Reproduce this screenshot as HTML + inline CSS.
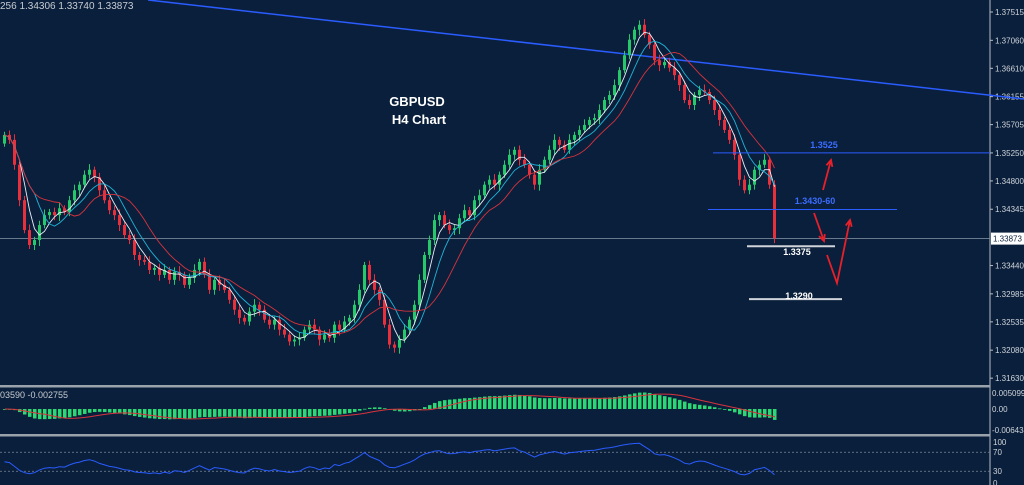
<!DOCTYPE html>
<html><head><meta charset="utf-8"><style>
html,body{margin:0;padding:0;background:#0a1f3b;overflow:hidden}
svg{display:block;font-family:"Liberation Sans",sans-serif}
</style></head><body>
<svg id="c" width="1024" height="485" viewBox="0 0 1024 485">
<rect x="0" y="0" width="1024" height="485" fill="#0a1f3b"/>
<text x="0" y="9" font-size="10" fill="#c8ccd2">256 1.34306 1.33740 1.33873</text>
<g id="grid"></g>
<g id="main"></g>
<g id="ann"></g>
</svg>
<script>
const closes=[1.3554,1.3546,1.3506,1.3449,1.3401,1.3377,1.3385,1.3409,1.3425,1.3430,
1.3425,1.3436,1.3430,1.3449,1.3465,1.3474,1.3490,1.3498,1.3486,1.3465,
1.3449,1.3433,1.3425,1.3409,1.3393,1.3385,1.3361,1.3353,1.3350,1.3337,
1.3340,1.3329,1.3337,1.3321,1.3334,1.3329,1.3313,1.3324,1.3337,1.3350,
1.3329,1.3305,1.3321,1.3313,1.3305,1.3289,1.3273,1.3260,1.3254,1.3270,
1.3281,1.3273,1.3257,1.3249,1.3257,1.3241,1.3233,1.3222,1.3225,1.3228,
1.3241,1.3249,1.3241,1.3225,1.3233,1.3228,1.3249,1.3241,1.3254,1.3260,
1.3281,1.3305,1.3345,1.3321,1.3305,1.3289,1.3249,1.3217,1.3212,1.3225,
1.3241,1.3257,1.3281,1.3321,1.3361,1.3385,1.3417,1.3425,1.3409,1.3401,
1.3404,1.3420,1.3433,1.3425,1.3449,1.3457,1.3474,1.3482,1.3474,1.3490,
1.3506,1.3522,1.3530,1.3514,1.3506,1.3490,1.3474,1.3498,1.3514,1.3530,
1.3546,1.3538,1.3530,1.3546,1.3554,1.3562,1.3570,1.3578,1.3581,1.3594,
1.3610,1.3618,1.3634,1.3658,1.3682,1.3707,1.3723,1.3731,1.3715,1.3699,
1.3674,1.3666,1.3671,1.3662,1.3650,1.3634,1.3610,1.3602,1.3618,1.3626,
1.3623,1.3610,1.3594,1.3578,1.3562,1.3546,1.3522,1.3482,1.3465,1.3474,
1.3498,1.3506,1.3514,1.3474,1.3388];
const firstOpen=1.3540;
const priceTicks=["1.37515","1.37060","1.36610","1.36155","1.35705","1.35250","1.34800","1.34345","1.33440","1.32985","1.32535","1.32080","1.31630"];
const lastPrice=1.33873;
const macdTicks=["0.005099","0.00","-0.006434"];
const rsiTicks=["100","70","30","0"];

const NS="http://www.w3.org/2000/svg";
function mk(tag,attrs,parent){const e=document.createElementNS(NS,tag);for(const k in attrs)e.setAttribute(k,attrs[k]);parent.appendChild(e);return e;}
const yP=p=>12+(1.37515-p)*6222;
const xI=i=>3+i*5;
const yM=v=>409-v*2600;
const yR=v=>485.5-v*0.475;
const main=document.getElementById('main'),grid=document.getElementById('grid'),ann=document.getElementById('ann');

let e=mk('line',{x1:990,y1:0,x2:990,y2:485,stroke:'#b8bec6','stroke-width':1},grid);

priceTicks.forEach(t=>{const y=yP(parseFloat(t));
 mk('line',{x1:990,y1:y,x2:993,y2:y,stroke:'#b8bec6'},grid);
 const tx=mk('text',{x:995,y:y+3,'font-size':8,fill:'#d0d4da'},grid);tx.textContent=t;
 });
[386,435].forEach(y=>{const s=mk('rect',{x:0,y:y-1,width:990,height:2.5,fill:'#9aa2ac'},grid);
 });
e=mk('line',{x1:0,y1:yP(lastPrice),x2:990,y2:yP(lastPrice),stroke:'#8a98aa','stroke-width':0.8},grid);

e=mk('rect',{x:991,y:yP(lastPrice)-6,width:33,height:12,fill:'#ffffff'},grid);

e=mk('text',{x:993,y:yP(lastPrice)+3,'font-size':8,fill:'#0a1f3b'},grid);e.textContent=lastPrice.toFixed(5);

[393,409,430].forEach((y,k)=>{
 const t=mk('text',{x:992,y:y+3,'font-size':8,fill:'#d0d4da'},grid);t.textContent=macdTicks[k];
 });
[442,452,471,483].forEach((y,k)=>{
 const t=mk('text',{x:993,y:y+3,'font-size':8,fill:'#d0d4da'},grid);t.textContent=rsiTicks[k];
 });
[70,30].forEach(v=>{const l=mk('line',{x1:0,y1:yR(v),x2:990,y2:yR(v),stroke:'#7a8698','stroke-dasharray':'2,2','stroke-width':0.8},grid);
 });
e=mk('text',{x:0,y:398,'font-size':9,fill:'#c8ccd2'},grid);e.textContent='03590 -0.002755';


e=mk('line',{x1:148,y1:0,x2:1024,y2:99,stroke:'#2a5cff','stroke-width':1.5},grid);


closes.forEach((c,i)=>{const o=i?closes[i-1]:firstOpen;const up=c>=o;const col=up?'#25c96a':'#e8303c';
 const hi=Math.max(o,c)+0.0005+(i%3)*0.0002,lo=Math.min(o,c)-0.0005-(i%4)*0.00015;
 const g=mk('g',{},main);
 mk('line',{x1:xI(i)+1.5,y1:yP(hi),x2:xI(i)+1.5,y2:yP(lo),stroke:col,'stroke-width':1},g);
 mk('rect',{x:xI(i),y:Math.min(yP(o),yP(c)),width:3,height:Math.max(1,Math.abs(yP(o)-yP(c))),fill:col},g);});
function sma(n){return closes.map((c,i)=>{const s=closes.slice(Math.max(0,i-n+1),i+1);return s.reduce((a,b)=>a+b,0)/s.length;});}
[[4,'#e8eef5'],[7,'#1fb5d8'],[12,'#d8333d']].forEach(([n,col])=>{const v=sma(n);
 const p=mk('path',{d:v.map((q,i)=>(i?'L':'M')+(xI(i)+1.5)+','+yP(q).toFixed(1)).join(''),fill:'none',stroke:col,'stroke-width':0.9},main);
 });
function ema(arr,n){const k=2/(n+1);let r=[];arr.forEach((v,i)=>r.push(i?v*k+r[i-1]*(1-k):v));return r;}
const e12=ema(closes,12),e26=ema(closes,26);const macd=closes.map((c,i)=>e12[i]-e26[i]);
const sig=macd.map((m,i)=>{const s=macd.slice(Math.max(0,i-8),i+1);return s.reduce((a,b)=>a+b,0)/s.length;});
macd.forEach((m,i)=>{const r=mk('rect',{x:xI(i),y:Math.min(yM(m),409),width:3.5,height:Math.max(0.8,Math.abs(yM(m)-409)),fill:'#2bd873'},main);
 });
e=mk('path',{d:sig.map((q,i)=>(i?'L':'M')+(xI(i)+2)+','+yM(q).toFixed(1)).join(''),fill:'none',stroke:'#d8333d','stroke-width':1},main);

const rsi=[];let ag=0.0008,al=0.0008;closes.forEach((c,i)=>{if(!i){rsi.push(50);return;}const d=c-closes[i-1];const g=Math.max(d,0),l=Math.max(-d,0);
 ag=(ag*13+g)/14;al=(al*13+l)/14;rsi.push(al===0?100:100-100/(1+ag/al));});
e=mk('path',{d:rsi.map((q,i)=>(i?'L':'M')+(xI(i)+1.5)+','+yR(q).toFixed(1)).join(''),fill:'none',stroke:'#2a5cff','stroke-width':1},main);


function hl(x1,x2,p,col,name,w){const l=mk('line',{x1:x1,y1:yP(p),x2:x2,y2:yP(p),stroke:col,'stroke-width':w},ann);}
hl(713,990,1.3525,'#2a5cff','resistance-1-3525-line',1);
hl(708,897,1.3434,'#2a5cff','support-1-3430-60-line',1);
hl(747,835,1.3375,'#d0d4da','target-1-3375-line',2);
hl(749,842,1.3290,'#d0d4da','target-1-3290-line',2);
function lab(x,y,t,col,name,fs){const tx=mk('text',{x:x,y:y,'font-size':fs||9,'font-weight':'bold',fill:col,'text-anchor':'middle'},ann);tx.textContent=t;}
lab(824,148,'1.3525','#3a6cff','label-1-3525');
lab(815,204,'1.3430-60','#3a6cff','label-1-3430-60');
lab(797,255,'1.3375','#ffffff','label-1-3375');
lab(799,299,'1.3290','#ffffff','label-1-3290');
lab(417,106,'GBPUSD','#ffffff','chart-title',13);
lab(419,124,'H4 Chart','#ffffff','chart-subtitle',13);
function arrow(pts,name){const p=mk('polyline',{points:pts.map(a=>a.join(',')).join(' '),fill:'none',stroke:'#e8202a','stroke-width':1.8},ann);
 const [x1,y1]=pts[pts.length-2],[x2,y2]=pts[pts.length-1];const a=Math.atan2(y2-y1,x2-x1);
 const h=mk('polyline',{points:[[x2-7*Math.cos(a-0.45),y2-7*Math.sin(a-0.45)],[x2,y2],[x2-7*Math.cos(a+0.45),y2-7*Math.sin(a+0.45)]].map(q=>q.join(',')).join(' '),fill:'none',stroke:'#e8202a','stroke-width':1.8},ann);
 }
arrow([[823,190],[831,160]],'bullish-arrow');
arrow([[814,213],[824,241]],'bearish-arrow');
arrow([[827,255],[837,283],[850,220]],'rebound-arrow');
</script>
</body></html>
